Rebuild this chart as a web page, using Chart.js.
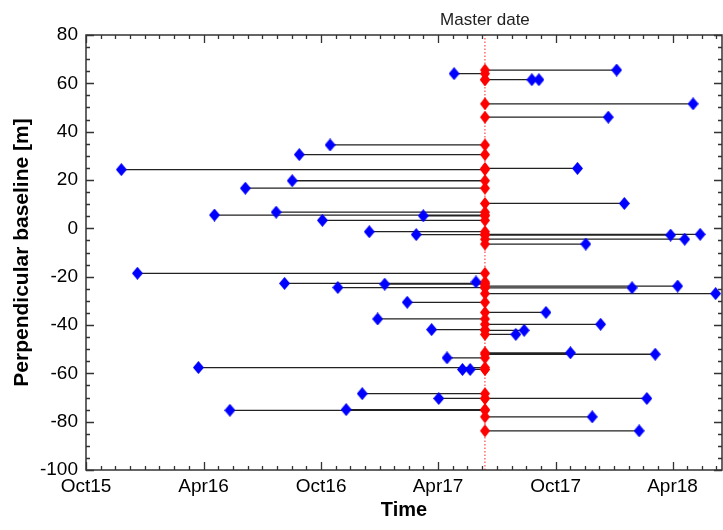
<!DOCTYPE html>
<html>
<head>
<meta charset="utf-8">
<script src="https://cdn.jsdelivr.net/npm/chart.js@4"></script>
<style>
  html, body { margin: 0; padding: 0; background: #fff; }
  #wrap { width: 723px; height: 530px; }
</style>
</head>
<body>
<div id="wrap"><canvas id="chart" width="723" height="530"></canvas></div>
<script>
// Acquisition dates of the slave images (blue) and their perpendicular baselines [m]
const slaveDates = [
  '2017-04-26', '2018-01-04', '2017-08-25', '2017-09-05', '2018-05-03', '2017-12-22',
  '2016-10-15', '2016-08-28', '2015-11-25', '2017-11-04', '2016-08-17', '2016-06-05',
  '2018-01-16', '2016-04-18', '2016-07-23', '2017-03-09', '2016-10-03', '2016-12-15',
  '2017-02-26', '2018-03-29', '2018-04-20', '2018-05-14', '2017-11-17', '2015-12-20',
  '2017-05-30', '2016-08-05', '2017-01-08', '2016-10-27', '2018-01-28', '2018-04-09',
  '2018-06-07', '2017-02-12', '2017-09-16', '2016-12-28', '2017-12-10', '2017-03-22',
  '2017-07-31', '2017-08-13', '2017-04-15', '2017-10-24', '2018-03-05', '2017-05-09',
  '2017-05-21', '2016-03-24', '2016-12-04', '2017-04-02', '2018-02-20', '2016-05-12',
  '2016-11-09', '2017-11-27', '2018-02-08'
];
const baselines = [
  64, 65.5, 61.5, 61.5, 51.5, 46,
  34.5, 30.5, 24.3, 24.8, 19.7, 16.6,
  10.3, 5.5, 6.7, 5.2, 3.3, -1.4,
  -2.6, -2.8, -4.5, -2.5, -6.5, -18.6,
  -22.2, -22.8, -23.1, -24.5, -24.6, -23.9,
  -27, -30.6, -34.8, -37.5, -39.7, -41.9,
  -43.9, -42.2, -53.6, -51.5, -52.1, -58.4,
  -58.4, -57.6, -68.4, -70.4, -70.4, -75.3,
  -75, -78, -83.8
];
const masterDate = '2017-06-13';

// Axis set-up
const xStart = '2015-10-01';
const xEnd = '2018-06-17';
const xTickDates = ['2015-10-01', '2016-04-01', '2016-10-01', '2017-04-01', '2017-10-01', '2018-04-01'];
const xTickLabels = ['Oct15', 'Apr16', 'Oct16', 'Apr17', 'Oct17', 'Apr18'];
const yMin = -100, yMax = 80, yStep = 20, yMinorStep = 5;

const FONT = "'Liberation Sans', Arial, sans-serif";

// day number counted from the left edge of the time axis
function dayNum(s) {
  return (Date.parse(s) - Date.parse(xStart)) / 86400000;
}

// diamond marker drawn on a small canvas
function diamond(color, w, h) {
  const c = document.createElement('canvas');
  c.width = w; c.height = h;
  const g = c.getContext('2d');
  g.fillStyle = color;
  g.beginPath();
  g.moveTo(w / 2, 0);
  g.lineTo(w, h / 2);
  g.lineTo(w / 2, h);
  g.lineTo(0, h / 2);
  g.closePath();
  g.fill();
  return c;
}

const masterX = dayNum(masterDate);
const slavePoints = slaveDates.map((d, i) => ({ x: dayNum(d), y: baselines[i] }));
const masterPoints = baselines.map(b => ({ x: masterX, y: b }));
const links = [];
slavePoints.forEach(p => {
  links.push({ x: p.x, y: p.y });
  links.push({ x: masterX, y: p.y });
  links.push({ x: masterX, y: null });
});

// frame with inward ticks and the "Master date" label
const framePlugin = {
  id: 'frame',
  afterDraw(chart) {
    const { ctx, chartArea: a, scales: { x, y } } = chart;
    ctx.save();
    ctx.strokeStyle = '#333';
    ctx.lineWidth = 1.5;
    ctx.strokeRect(a.left, a.top, a.right - a.left, a.bottom - a.top);

    ctx.lineWidth = 1.3;
    ctx.beginPath();
    // x ticks: majors + 7 minors between each pair
    const majors = xTickDates.map(dayNum);
    const minors = [];
    for (let i = 0; i < majors.length - 1; i++) {
      const step = (majors[i + 1] - majors[i]) / 8;
      for (let k = 1; k < 8; k++) minors.push(majors[i] + k * step);
    }
    const lastStep = (majors[majors.length - 1] - majors[majors.length - 2]) / 8;
    for (let v = majors[majors.length - 1] + lastStep; v < x.max; v += lastStep) minors.push(v);
    majors.forEach(v => {
      const px = Math.round(x.getPixelForValue(v)) + 0.5;
      ctx.moveTo(px, a.bottom); ctx.lineTo(px, a.bottom - 8);
      ctx.moveTo(px, a.top); ctx.lineTo(px, a.top + 8);
    });
    minors.forEach(v => {
      const px = Math.round(x.getPixelForValue(v)) + 0.5;
      ctx.moveTo(px, a.bottom); ctx.lineTo(px, a.bottom - 4);
      ctx.moveTo(px, a.top); ctx.lineTo(px, a.top + 4);
    });
    for (let v = yMin; v <= yMax; v += yMinorStep) {
      const py = Math.round(y.getPixelForValue(v)) + 0.5;
      const len = (v % yStep === 0) ? 8 : 4;
      ctx.moveTo(a.left, py); ctx.lineTo(a.left + len, py);
      ctx.moveTo(a.right, py); ctx.lineTo(a.right - len, py);
    }
    ctx.stroke();

    ctx.fillStyle = '#222';
    ctx.font = '17px ' + FONT;
    ctx.textAlign = 'center';
    ctx.textBaseline = 'middle';
    ctx.fillText('Master date', x.getPixelForValue(masterX), a.top - 15);
    ctx.restore();
  }
};

new Chart(document.getElementById('chart'), {
  type: 'scatter',
  data: {
    datasets: [
      {
        label: 'Slave',
        data: slavePoints,
        pointStyle: diamond('#0000ff', 11, 13),
        pointRadius: 6
      },
      {
        label: 'Master',
        data: masterPoints,
        pointStyle: diamond('#ff0000', 10, 13),
        pointRadius: 6
      },
      {
        type: 'line',
        label: 'Links',
        data: links,
        showLine: true,
        spanGaps: false,
        borderColor: '#222',
        borderWidth: 1.3,
        pointRadius: 0
      },
      {
        type: 'line',
        label: 'Master line',
        data: [{ x: masterX, y: yMin }, { x: masterX, y: yMax }],
        showLine: true,
        borderColor: '#ff2020',
        borderWidth: 1,
        borderDash: [1.5, 2],
        pointRadius: 0
      }
    ]
  },
  options: {
    responsive: false,
    animation: false,
    devicePixelRatio: 1,
    layout: { autoPadding: false, padding: { top: 35, right: 1, left: 0, bottom: 0 } },
    plugins: { legend: { display: false }, tooltip: { enabled: false } },
    scales: {
      x: {
        type: 'linear',
        min: 0,
        max: dayNum(xEnd),
        grid: { display: false, drawTicks: false },
        border: { display: false },
        afterBuildTicks(scale) {
          scale.ticks = xTickDates.map(d => ({ value: dayNum(d) }));
        },
        afterFit(scale) {
          scale.height = 60;
          scale.paddingLeft = 0;
          scale.paddingRight = 0;
        },
        ticks: {
          autoSkip: false,
          maxRotation: 0,
          padding: 5,
          color: '#000',
          font: { family: FONT, size: 19 },
          callback: (v, i) => xTickLabels[i]
        },
        title: {
          display: true,
          text: 'Time',
          color: '#000',
          font: { family: FONT, size: 20, weight: 'bold' },
          padding: { top: 0, bottom: 8 }
        }
      },
      y: {
        min: yMin,
        max: yMax,
        grid: { display: false, drawTicks: false },
        border: { display: false },
        afterFit(scale) { scale.width = 86; },
        ticks: {
          stepSize: yStep,
          padding: 8,
          color: '#000',
          font: { family: FONT, size: 19 },
          callback: v => String(v)
        },
        title: {
          display: true,
          text: 'Perpendicular baseline [m]',
          color: '#000',
          font: { family: FONT, size: 21, weight: 'bold' },
          padding: { top: 10, bottom: 0 }
        }
      }
    }
  },
  plugins: [framePlugin]
});
</script>
</body>
</html>
